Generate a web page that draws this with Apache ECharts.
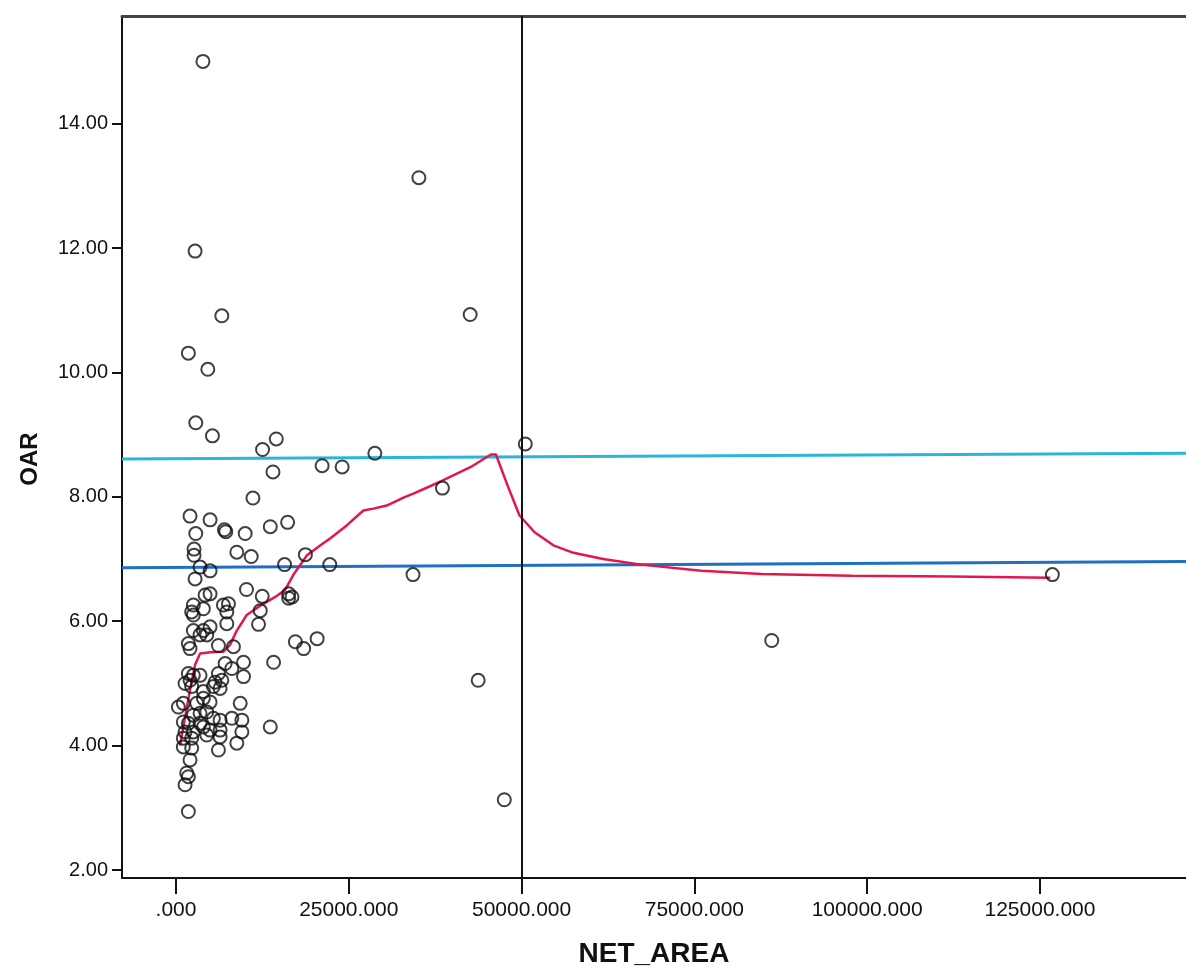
<!DOCTYPE html>
<html>
<head>
<meta charset="utf-8">
<script src="https://cdn.jsdelivr.net/npm/echarts@6/dist/echarts.min.js"></script>
<style>
html,body{margin:0;padding:0;background:#fff;}
#chart{width:1186px;height:973px;}
</style>
</head>
<body>
<div id="chart"></div>
<script>
// Scatter values: [NET_AREA, OAR]
const netArea = [3900,35140,2760,6630,42560,1790,4600,2860,5270,12520,14510,28770,50540,14030,21140,24040,38550,11130,2030,4930,7010,7200,10010,13640,16150,2860,2610,2610,8800,10880,18720,15710,22250,34290,3480,4930,2760,10200,4210,4930,12480,16300,16300,16780,2510,2270,2510,3960,6860,7590,7350,12190,7350,11940,2510,3960,4930,3480,4450,1790,2030,6140,8310,17270,18470,20420,86190,126800,7110,9770,14120,1790,2510,2030,1310,2270,3480,6140,6630,5660,8080,9770,43720,5410,6380,3960,1060,340,3000,3960,4930,9290,2510,3480,4450,5410,6380,8080,9530,1060,1790,3480,3960,13640,1310,2510,4930,6380,9530,1060,2270,4450,6380,8800,1060,2270,6140,2030,1550,1790,1310,1790,47500];
const oar = [15.00,13.13,11.95,10.91,10.93,10.31,10.05,9.19,8.98,8.76,8.93,8.70,8.85,8.40,8.50,8.48,8.14,7.98,7.69,7.63,7.47,7.44,7.41,7.52,7.59,7.41,7.16,7.06,7.11,7.04,7.07,6.91,6.91,6.75,6.87,6.81,6.68,6.51,6.42,6.44,6.40,6.44,6.37,6.39,6.26,6.15,6.10,6.20,6.26,6.28,6.15,6.17,5.96,5.95,5.85,5.85,5.91,5.78,5.78,5.64,5.56,5.61,5.59,5.67,5.56,5.72,5.69,6.75,5.32,5.34,5.34,5.16,5.13,5.05,5.00,4.95,5.13,5.16,5.05,5.02,5.24,5.11,5.05,4.95,4.92,4.87,4.68,4.62,4.68,4.76,4.70,4.68,4.49,4.52,4.54,4.44,4.41,4.44,4.41,4.38,4.36,4.36,4.30,4.30,4.22,4.22,4.25,4.25,4.22,4.12,4.12,4.17,4.14,4.04,3.98,3.96,3.93,3.77,3.56,3.50,3.37,2.94,3.13];

// Fit (loess) line
const fitX = [580,1800,2760,3480,5000,6860,7810,8800,10230,12630,14500,15770,17000,18960,20900,22290,24700,27110,28560,30490,32990,34340,36750,38310,42660,45560,46290,47980,49700,51880,54600,57500,61800,67300,76000,84700,97800,112300,126500];
const fitY = [4.00,4.76,5.30,5.48,5.50,5.51,5.62,5.85,6.10,6.28,6.40,6.50,6.75,7.06,7.22,7.33,7.54,7.78,7.81,7.86,7.99,8.05,8.17,8.25,8.48,8.68,8.68,8.18,7.70,7.43,7.22,7.10,7.00,6.91,6.81,6.76,6.73,6.72,6.70];

// Reference lines
const upperLineY = [8.61, 8.70];
const lowerLineY = [6.86, 6.96];
const verticalLineX = 50000;

const xTicks = [0, 25000, 50000, 75000, 100000, 125000];
const yTicks = [2, 4, 6, 8, 10, 12, 14];
const xMin = -7813, xMax = 146130;
const yMin = 1.872, yMax = 15.73;

const FONT = '"Liberation Sans", Arial, sans-serif';
const chart = echarts.init(document.getElementById('chart'));
chart.setOption({
  animation: false,
  backgroundColor: '#ffffff',
  grid: {left: 122, right: 0, top: 16, bottom: 93, containLabel: false},
  xAxis: [{
    type: 'value', min: xMin, max: xMax,
    name: 'NET_AREA', nameLocation: 'middle', nameGap: 62,
    nameTextStyle: {fontFamily: FONT, fontWeight: 'bold', fontSize: 28, color: '#111'},
    axisLine: {show: true, onZero: false, lineStyle: {color: '#111', width: 2}},
    axisTick: {show: true, length: 16, customValues: xTicks, lineStyle: {color: '#111', width: 2}},
    axisLabel: {customValues: xTicks, margin: 22, fontFamily: FONT, fontSize: 21, color: '#111',
      formatter: v => (v === 0 ? '.000' : v + '.000')},
    splitLine: {show: false}
  }, {
    type: 'value', min: xMin, max: xMax, position: 'top',
    axisLine: {show: true, onZero: false, lineStyle: {color: '#444', width: 3}},
    axisTick: {show: false}, axisLabel: {show: false}, splitLine: {show: false}
  }],
  yAxis: {
    type: 'value', min: yMin, max: yMax,
    name: 'OAR', nameLocation: 'middle', nameGap: 80, nameRotate: 90,
    nameTextStyle: {fontFamily: FONT, fontWeight: 'bold', fontSize: 24, color: '#111', padding: [0, 24, 0, 0]},
    axisLine: {show: true, onZero: false, lineStyle: {color: '#111', width: 2}},
    axisTick: {show: true, length: 10, customValues: yTicks, lineStyle: {color: '#111', width: 2}},
    axisLabel: {customValues: yTicks, margin: 14, fontFamily: FONT, fontSize: 20, color: '#111',
      formatter: v => v.toFixed(2)},
    splitLine: {show: false}
  },
  series: [
    {
      type: 'line', name: 'upper', showSymbol: false, symbol: 'none', silent: true,
      data: [[xMin, upperLineY[0]], [xMax, upperLineY[1]]],
      lineStyle: {color: '#2bb4dc', width: 3}, z: 2
    },
    {
      type: 'line', name: 'lower', showSymbol: false, symbol: 'none', silent: true,
      data: [[xMin, lowerLineY[0]], [xMax, lowerLineY[1]]],
      lineStyle: {color: '#1f6fc2', width: 3}, z: 2
    },
    {
      type: 'line', name: 'fit', showSymbol: false, symbol: 'none', silent: true,
      data: fitX.map((x, i) => [x, fitY[i]]),
      lineStyle: {color: '#e3174b', width: 2.5}, z: 3
    },
    {
      type: 'scatter', name: 'OAR',
      data: netArea.map((x, i) => [x, oar[i]]),
      symbol: 'circle', symbolSize: 13,
      itemStyle: {color: 'rgba(255,255,255,0)', borderColor: '#111', borderWidth: 2},
      z: 4,
      markLine: {
        silent: true, symbol: 'none', label: {show: false},
        lineStyle: {color: '#111', width: 2, type: 'solid'},
        data: [{xAxis: verticalLineX}]
      }
    }
  ]
});
</script>
</body>
</html>
